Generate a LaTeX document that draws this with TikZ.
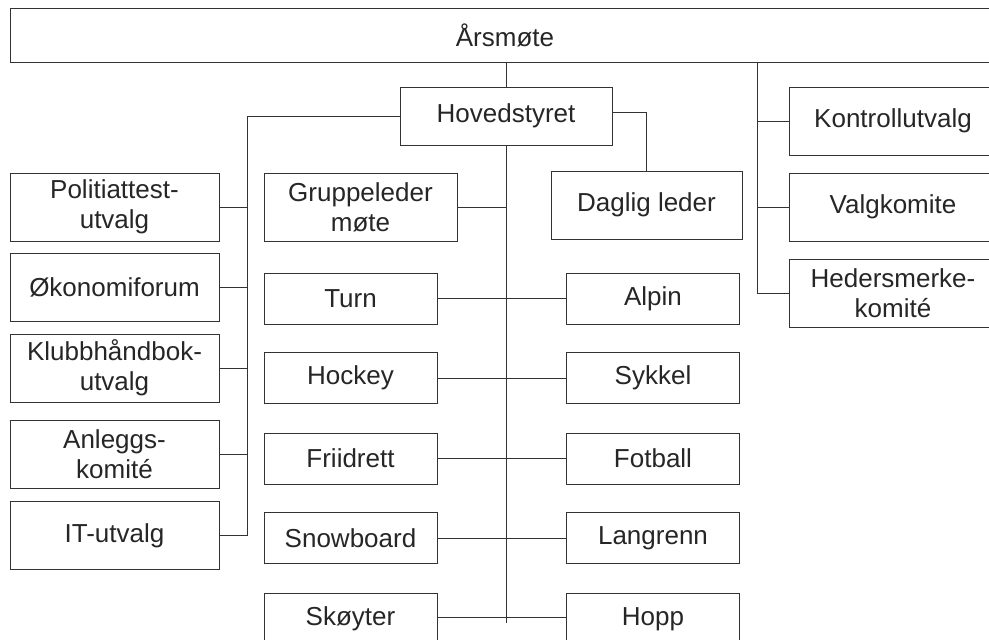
\documentclass[tikz,border=0pt]{standalone}
\usepackage{fontspec}
\setmainfont{Liberation Sans}
\usepackage{xcolor}
\usepackage{tikz}
\usetikzlibrary{calc}

\begin{document}
\begin{tikzpicture}[
    x=1pt, y=-1pt,
    box/.style={draw=black!80, line width=1pt, fill=white, align=center, text=black!85, font=\fontsize{26}{30}\selectfont, inner sep=0pt},
    side_blk/.style={box, minimum width=209pt, minimum height=68pt},
    ctrl_blk/.style={box, minimum width=208pt, minimum height=68pt},
    sport_blk/.style={box, minimum width=173pt, minimum height=51pt},
    line/.style={draw=black!80, line width=1pt}
]
    \useasboundingbox (0,0) rectangle (989,640);

    % Top
    \node[box, minimum width=990pt, minimum height=54pt] (aars) at (505,35) {Årsmøte};
    \node[box, minimum width=212pt, minimum height=58pt] (hoved) at (506,116) {Hovedstyret};
    \node[box, minimum width=193pt, minimum height=68pt] (grupp) at (360.5,207) {Gruppeleder\\møte};
    \node[box, minimum width=191pt, minimum height=68pt] (daglig) at (646.5,205) {Daglig leder};

    % Left column
    \node[side_blk] (pol) at (114.5,207) {Politiattest-\\utvalg};
    \node[side_blk] (oko) at (114.5,287.5) {Økonomiforum};
    \node[side_blk] (klubb) at (114.5,368) {Klubbhåndbok-\\utvalg};
    \node[side_blk] (anlegg) at (114.5,454.5) {Anleggs-\\komité};
    \node[side_blk] (it) at (114.5,535.5) {IT-utvalg};

    % Right column
    \node[ctrl_blk] (kontroll) at (893,121) {Kontrollutvalg};
    \node[ctrl_blk] (valg) at (893,207) {Valgkomite};
    \node[ctrl_blk] (heder) at (893,293.5) {Hedersmerke-\\komité};

    % Sports
    \node[sport_blk] (turn) at (350.5,298.5) {Turn};
    \node[sport_blk] (hockey) at (350.5,378) {Hockey};
    \node[sport_blk] (fri) at (350.5,458.5) {Friidrett};
    \node[sport_blk] (snow) at (350.5,538) {Snowboard};
    \node[sport_blk] (skoyter) at (350.5,619) {Skøyter};
    \node[sport_blk] (alpin) at (653,298.5) {Alpin};
    \node[sport_blk] (sykkel) at (653,378) {Sykkel};
    \node[sport_blk] (fotball) at (653,458.5) {Fotball};
    \node[sport_blk] (langrenn) at (653,538) {Langrenn};
    \node[sport_blk] (hopp) at (653,619) {Hopp};

    \coordinate (lbus) at (247,535.5);
    \coordinate (rbus) at (757,293.5);
    \coordinate (trunk) at (506,623);

    % Connection lines
    \draw[line] (hoved.north) -- (hoved.north |- aars.south);
    \draw[line] (hoved.west) -| (lbus) -- (it.east);
    \draw[line] (pol.east) -- (pol.east -| lbus);
    \draw[line] (oko.east) -- (oko.east -| lbus);
    \draw[line] (klubb.east) -- (klubb.east -| lbus);
    \draw[line] (anlegg.east) -- (anlegg.east -| lbus);
    \draw[line] ([yshift=4pt]hoved.east) -| (daglig.north);
    \draw[line] (hoved.south) -- (trunk);
    \draw[line] (grupp.east) -- (grupp.east -| trunk);

    \draw[line] (rbus |- aars.south) -- (rbus) -- (heder.west);
    \draw[line] (kontroll.west) -- (kontroll.west -| rbus);
    \draw[line] (valg.west) -- (valg.west -| rbus);

    \draw[line] (turn.east) -- (alpin.west);
    \draw[line] (hockey.east) -- (sykkel.west);
    \draw[line] (fri.east) -- (fotball.west);
    \draw[line] (snow.east) -- (langrenn.west);
    \draw[line] ([yshift=2pt]skoyter.east) -- ([yshift=2pt]hopp.west);

\end{tikzpicture}
\end{document}
